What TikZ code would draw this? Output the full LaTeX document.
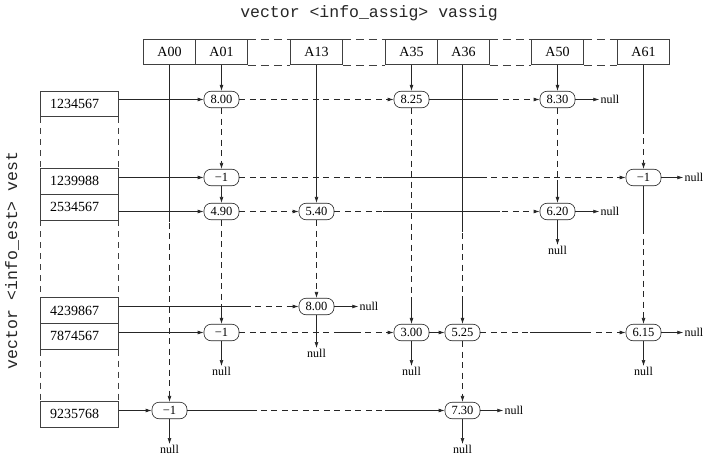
\documentclass[tikz,border=0pt]{standalone}
\usepackage{fontspec}
\setmainfont{Liberation Serif}
\newfontfamily\monofam{Liberation Mono}
\usetikzlibrary{arrows.meta,calc}
\newcommand{\solseg}[4]{\draw[ln] ($(#1)!#3!(#2)$) -- ($(#1)!#4!(#2)$);}
\tikzset{
  ln/.style={line width=0.6pt, draw=black!85},
  dsh/.style={ln, dash pattern=on 6pt off 4.5pt},
  arr/.style={-{Latex[length=6pt,width=3.8pt]}},
  hbox/.style={draw=black!75, line width=0.6pt, minimum width=52pt, minimum height=25.4pt, inner sep=0pt, font=\fontsize{14}{16}\selectfont},
  rbox/.style={draw=black!75, line width=0.6pt, minimum height=25.8pt, text width=59pt, align=left, inner xsep=9.3pt, inner ysep=0pt, font=\fontsize{14}{16}\selectfont},
  pill/.style={draw=black!85, line width=0.6pt, rounded corners=7pt, minimum width=35pt, minimum height=16.5pt, inner sep=0pt, font=\fontsize{12.5}{14}\selectfont},
  nulllbl/.style={inner sep=1pt, font=\fontsize{12}{14}\selectfont},
  ttlbl/.style={font=\monofam\fontsize{16.5}{19}\selectfont, inner sep=0pt, text=black!85},
  hdash/.style={line width=0.6pt, draw=black!75, dash pattern=on 8pt off 5pt},
}
\begin{document}
\begin{tikzpicture}[x=1pt,y=-1pt]
\useasboundingbox (0,0) rectangle (708,457);

% titles
\node[ttlbl] (title) at (369,13) {vector <info\_assig> vassig};
\node[ttlbl, rotate=90] (vlabel) at (12,260.5) {vector <info\_est> vest};

% header boxes
\node[hbox] (hA00) at (169.5,52) {A00};
\node[hbox] (hA01) at (221.5,52) {A01};
\node[hbox] (hA13) at (316.5,52) {A13};
\node[hbox] (hA35) at (411.5,52) {A35};
\node[hbox] (hA36) at (463.5,52) {A36};
\node[hbox] (hA50) at (557.5,52) {A50};
\node[hbox] (hA61) at (643.5,52) {A61};
\draw[hdash] (hA01.north east) -- (hA13.north west);
\draw[hdash] (hA01.south east) -- (hA13.south west);
\draw[hdash] (hA13.north east) -- (hA35.north west);
\draw[hdash] (hA13.south east) -- (hA35.south west);
\draw[hdash] (hA36.north east) -- (hA50.north west);
\draw[hdash] (hA36.south east) -- (hA50.south west);
\draw[hdash] (hA50.north east) -- (hA61.north west);
\draw[hdash] (hA50.south east) -- (hA61.south west);

% row boxes
\node[rbox] (b1) at (79.5,103.8) {1234567};
\node[rbox] (b2) at (79.5,181.3) {1239988};
\node[rbox] (b3) at (79.5,207.1) {2534567};
\node[rbox] (b4) at (79.5,310.5) {4239867};
\node[rbox] (b5) at (79.5,336.3) {7874567};
\node[rbox] (b6) at (79.5,413.9) {9235768};
\draw[hdash, dash pattern=on 6pt off 5pt] (b1.south west) -- (b2.north west);
\draw[hdash, dash pattern=on 6pt off 5pt] (b1.south east) -- (b2.north east);
\draw[hdash, dash pattern=on 6pt off 5pt] (b3.south west) -- (b4.north west);
\draw[hdash, dash pattern=on 6pt off 5pt] (b3.south east) -- (b4.north east);
\draw[hdash, dash pattern=on 6pt off 5pt] (b5.south west) -- (b6.north west);
\draw[hdash, dash pattern=on 6pt off 5pt] (b5.south east) -- (b6.north east);

% element nodes
\node[pill] (pA01r1) at (221.5,99.5) {8.00};
\node[pill] (pA35r1) at (411.5,99.5) {8.25};
\node[pill] (pA50r1) at (557.5,99.5) {8.30};
\node[pill] (pA01r2) at (221.5,177.5) {−1};
\node[pill] (pA61r2) at (643.5,177.5) {−1};
\node[pill] (pA01r3) at (221.5,211.5) {4.90};
\node[pill] (pA13r3) at (316.5,211.5) {5.40};
\node[pill] (pA50r3) at (557.5,211.5) {6.20};
\node[pill] (pA13r4) at (316.5,306.5) {8.00};
\node[pill] (pA01r5) at (221.5,332.5) {−1};
\node[pill] (pA35r5) at (411.5,332.5) {3.00};
\node[pill] (pA36r5) at (462.5,332.5) {5.25};
\node[pill] (pA61r5) at (643.5,332.5) {6.15};
\node[pill] (pA00r6) at (169.5,410.5) {−1};
\node[pill] (pA36r6) at (462.5,410.5) {7.30};

% null labels
\node[nulllbl, anchor=west] (nR1) at ([xshift=24pt]pA50r1.east) {null};
\node[nulllbl, anchor=west] (nR2) at ([xshift=22pt]pA61r2.east) {null};
\node[nulllbl, anchor=west] (nR3) at ([xshift=24pt]pA50r3.east) {null};
\node[nulllbl, anchor=west] (nR4) at ([xshift=24pt]pA13r4.east) {null};
\node[nulllbl, anchor=west] (nR5) at ([xshift=22pt]pA61r5.east) {null};
\node[nulllbl, anchor=west] (nR6) at ([xshift=23pt]pA36r6.east) {null};
\node[nulllbl, anchor=north] (nA00) at ([yshift=-25pt]pA00r6.south) {null};
\node[nulllbl, anchor=north] (nA01) at ([yshift=-25pt]pA01r5.south) {null};
\node[nulllbl, anchor=north] (nA13) at ([yshift=-33pt]pA13r4.south) {null};
\node[nulllbl, anchor=north] (nA35) at ([yshift=-25pt]pA35r5.south) {null};
\node[nulllbl, anchor=north] (nA36) at ([yshift=-25pt]pA36r6.south) {null};
\node[nulllbl, anchor=north] (nA50) at ([yshift=-25pt]pA50r3.south) {null};
\node[nulllbl, anchor=north] (nA61) at ([yshift=-25pt]pA61r5.south) {null};

% ---- column links ----
% A00
\draw[dsh,arr] (hA00) -- (pA00r6);
\solseg{hA00.south}{pA00r6.north}{0pt}{157pt}
\draw[ln,arr] (pA00r6) -- (nA00);
% A01
\draw[ln,arr] (hA01) -- (pA01r1);
\draw[dsh,arr] (pA01r1) -- (pA01r2);
\draw[ln,arr] (pA01r2) -- (pA01r3);
\draw[dsh,arr] (pA01r3) -- (pA01r5);
\solseg{pA01r5.north}{pA01r3.south}{3pt}{18pt}
\draw[ln,arr] (pA01r5) -- (nA01);
% A13
\draw[ln,arr] (hA13) -- (pA13r3);
\draw[dsh,arr] (pA13r3) -- (pA13r4);
\draw[ln,arr] (pA13r4) -- (nA13);
% A35
\draw[ln,arr] (hA35) -- (pA35r1);
\draw[dsh,arr] (pA35r1) -- (pA35r5);
\solseg{pA35r5.north}{pA35r1.south}{3pt}{27pt}
\draw[ln,arr] (pA35r5) -- (nA35);
% A36
\coordinate (a36top) at (hA36.south -| pA36r5.north);
\draw[dsh,arr] (a36top) -- (pA36r5.north);
\solseg{a36top}{pA36r5.north}{0pt}{167pt}
\solseg{pA36r5.north}{a36top}{3pt}{26pt}
\draw[dsh,arr] (pA36r5) -- (pA36r6);
\draw[ln,arr] (pA36r6) -- (nA36);
% A50
\draw[ln,arr] (hA50) -- (pA50r1);
\draw[dsh,arr] (pA50r1) -- (pA50r3);
\solseg{pA50r3.north}{pA50r1.south}{3pt}{23pt}
\draw[ln,arr] (pA50r3) -- (nA50);
% A61
\draw[dsh,arr] (hA61) -- (pA61r2);
\solseg{hA61.south}{pA61r2.north}{0pt}{63pt}
\draw[dsh,arr] (pA61r2) -- (pA61r5);
\solseg{pA61r2.south}{pA61r5.north}{0pt}{46pt}
\draw[ln,arr] (pA61r5) -- (nA61);

% ---- row links ----
% row 1234567
\draw[ln,arr] (pA01r1.west -| b1.east) -- (pA01r1.west);
\draw[dsh,arr] (pA01r1) -- (pA35r1);
\draw[dsh,arr] (pA35r1) -- (pA50r1);
\solseg{pA35r1.east}{pA50r1.west}{0pt}{67pt}
\draw[ln,arr] (pA50r1) -- (nR1);
% row 1239988
\draw[ln,arr] (pA01r2.west -| b2.east) -- (pA01r2.west);
\draw[dsh,arr] (pA01r2) -- (pA61r2);
\solseg{pA01r2.east}{pA61r2.west}{144pt}{248pt}
\draw[ln,arr] (pA61r2) -- (nR2);
% row 2534567
\draw[ln,arr] (pA01r3.west -| b3.east) -- (pA01r3.west);
\draw[dsh,arr] (pA01r3) -- (pA13r3);
\draw[dsh,arr] (pA13r3) -- (pA50r3);
\solseg{pA13r3.east}{pA50r3.west}{49pt}{166pt}
\draw[ln,arr] (pA50r3) -- (nR3);
% row 4239867
\coordinate (s4) at (pA13r4.west -| b4.east);
\draw[dsh,arr] (s4) -- (pA13r4.west);
\solseg{s4}{pA13r4.west}{0pt}{132pt}
\draw[ln,arr] (pA13r4) -- (nR4);
% row 7874567
\draw[ln,arr] (pA01r5.west -| b5.east) -- (pA01r5.west);
\draw[dsh,arr] (pA01r5) -- (pA35r5);
\solseg{pA01r5.east}{pA35r5.west}{96pt}{118pt}
\draw[ln,arr] (pA35r5) -- (pA36r5);
\draw[dsh,arr] (pA36r5) -- (pA61r5);
\solseg{pA36r5.east}{pA61r5.west}{50pt}{110pt}
\draw[ln,arr] (pA61r5) -- (nR5);
% row 9235768
\draw[ln,arr] (pA00r6.west -| b6.east) -- (pA00r6.west);
\draw[dsh,arr] (pA00r6) -- (pA36r6);
\solseg{pA00r6.east}{pA36r6.west}{0pt}{70pt}
\solseg{pA36r6.west}{pA00r6.east}{3pt}{60pt}
\draw[ln,arr] (pA36r6) -- (nR6);
\end{tikzpicture}
\end{document}
